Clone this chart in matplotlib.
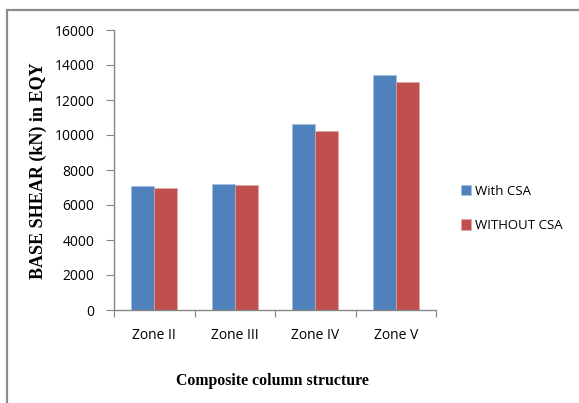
import numpy as np
import matplotlib.pyplot as plt
from matplotlib.patches import Rectangle

# data
zones = ['Zone II', 'Zone III', 'Zone IV', 'Zone V']
with_csa = [7090, 7200, 10650, 13430]
without_csa = [7000, 7140, 10210, 13030]

plt.rcParams['font.family'] = ['Open Sans', 'DejaVu Sans']

W, H = 579, 403
fig = plt.figure(figsize=(W / 100, H / 100), dpi=100)
fig.patch.set_facecolor('white')

# outer chart frame (only top and left edges visible)
fig.patches.append(Rectangle((7 / W, -0.5), 2.0, 1 - 10 / H + 0.5,
                             transform=fig.transFigure, fill=False,
                             edgecolor='#8c8c8c', linewidth=1.6))

ax = fig.add_axes([114 / W, 1 - 310 / H, (436 - 114) / W, (310 - 30) / H])

x = np.arange(len(zones)) + 0.5
width = 0.285
ax.bar(x - width / 2, with_csa, width, color='#4f81bd', label='With CSA',
       edgecolor='#a7c0e0', linewidth=0.4)
ax.bar(x + width / 2, without_csa, width, color='#c0504d', label='WITHOUT CSA',
       edgecolor='#e0a8a6', linewidth=0.4)

ax.set_xlim(0, len(zones))
ax.set_ylim(0, 16000)
ax.set_yticks(np.arange(0, 16001, 2000))
ax.set_xticks(np.arange(0, len(zones) + 1))
ax.set_xticklabels([])
ax.set_xticks(x, minor=True)
ax.set_xticklabels(zones, minor=True)

for s in ['top', 'right']:
    ax.spines[s].set_visible(False)
for s in ['left', 'bottom']:
    ax.spines[s].set_color('#868686')
    ax.spines[s].set_linewidth(1.0)

ax.tick_params(axis='y', which='major', length=6, color='#868686',
               labelsize=10, pad=8)
ax.tick_params(axis='x', which='major', length=5, color='#868686')
ax.tick_params(axis='x', which='minor', length=0, labelsize=10, pad=13)

fig.text(38 / W, 1 - 171 / H, 'BASE SHEAR (kN) in EQY', rotation=90,
         ha='center', va='center', fontsize=13, fontweight='bold',
         family='Liberation Serif')
fig.text(272 / W, 1 - 381 / H, 'Composite column structure',
         ha='center', va='center', fontsize=11.4, fontweight='bold',
         family='Liberation Serif')

leg = fig.legend(loc='center left', bbox_to_anchor=(449 / W, 1 - 208.5 / H),
                 frameon=False, prop={'size': 9.5},
                 handlelength=0.8, handleheight=0.8, handletextpad=0.3,
                 labelspacing=1.6)

fig.savefig('out.png', dpi=100)
